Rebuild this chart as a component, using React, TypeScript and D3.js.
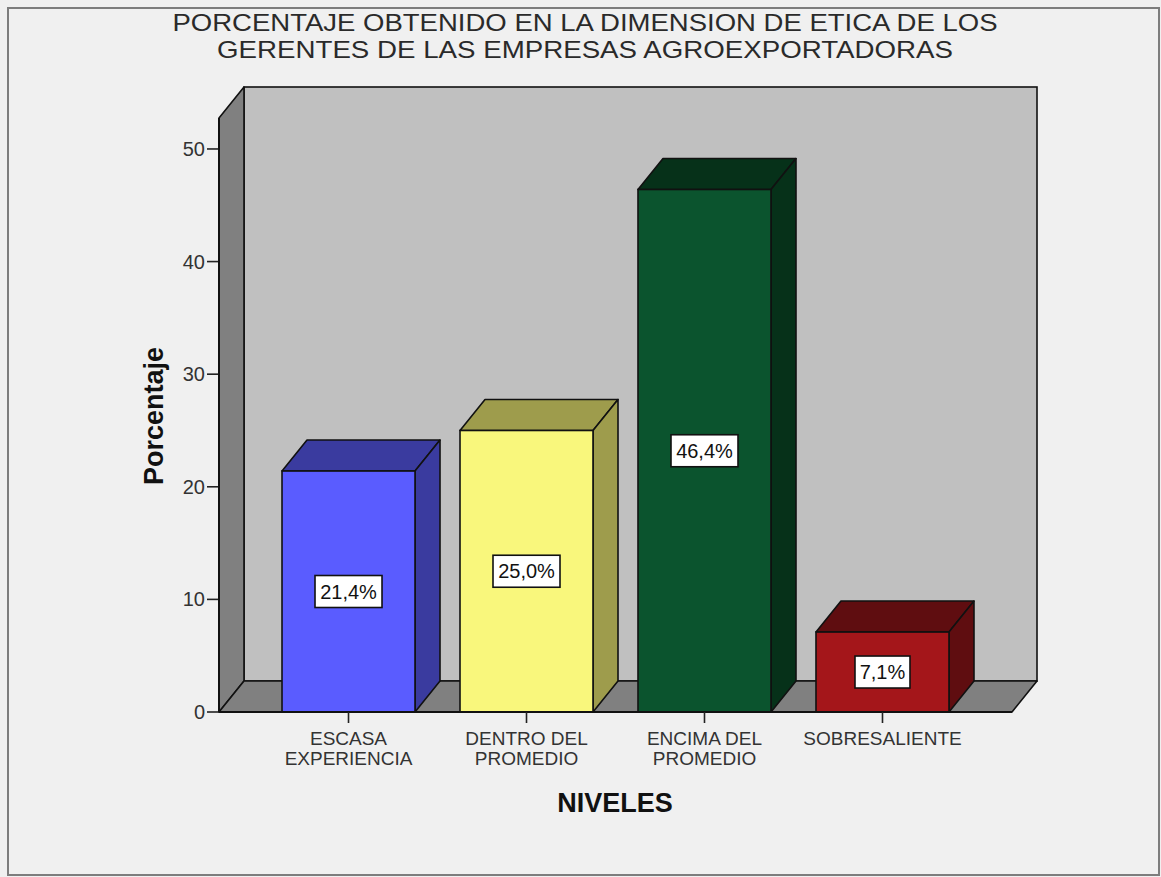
import React from "react";
import * as d3 from "d3";

const categories = ["ESCASA EXPERIENCIA", "DENTRO DEL PROMEDIO", "ENCIMA DEL PROMEDIO", "SOBRESALIENTE"];
const categoryLines = [["ESCASA", "EXPERIENCIA"], ["DENTRO DEL", "PROMEDIO"], ["ENCIMA DEL", "PROMEDIO"], ["SOBRESALIENTE"]];
const values = [21.4, 25.0, 46.4, 7.1];
const valueLabels = ["21,4%", "25,0%", "46,4%", "7,1%"];
const yTicks = [0, 10, 20, 30, 40, 50];
const frontColors = ["#5a5cff", "#f9f77c", "#0b542e", "#a4161a"];
const darkColors = ["#3a3b9f", "#9e9c4c", "#063119", "#5f0d10"];
const titleLines = [
  "PORCENTAJE OBTENIDO EN LA DIMENSION DE ETICA DE LOS",
  "GERENTES DE LAS EMPRESAS AGROEXPORTADORAS",
];
const titleWidths = [825, 736];

const W = 1161;
const H = 877;
const FONT = "'Liberation Sans', Arial, sans-serif";

export default function App() {
  const x0 = 219, x1 = 1012;
  const yBase = 712, yTopFront = 118;
  const dx = 25, dy = 31;
  const y = d3.scaleLinear().domain([0, 52.75]).range([yBase, yTopFront]);
  const x = d3.scaleBand<string>().domain(categories).range([x0, x1]).paddingInner(0.2528).paddingOuter(0.354);
  const bw = x.bandwidth();
  const stroke = "#111";
  const sw = 1.6;

  const pts = (a: number[][]) => a.map((p) => p.join(",")).join(" ");

  return (
    <div style={{ position: "absolute", left: 0, top: 0, width: W, height: H, background: "#f0f0f0" }}>
      <svg width={W} height={H} style={{ display: "block" }}>
        <rect x={0} y={0} width={W} height={H} fill="#f0f0f0" />
        <rect x={8} y={8} width={1151} height={867} fill="#f0f0f0" stroke="#7d7d7d" strokeWidth={2} />
        {titleLines.map((t, i) => (
          <text
            key={i}
            x={585}
            y={31 + i * 27}
            textAnchor="middle"
            fontFamily={FONT}
            fontSize={24}
            fill="#2a2a2a"
            textLength={titleWidths[i]}
            lengthAdjust="spacingAndGlyphs"
          >
            {t}
          </text>
        ))}
        {/* back wall */}
        <rect x={x0 + dx} y={yTopFront - dy} width={x1 - x0} height={yBase - yTopFront} fill="#c0c0c0" stroke={stroke} strokeWidth={sw} />
        {/* left wall */}
        <polygon
          points={pts([[x0, yTopFront], [x0 + dx, yTopFront - dy], [x0 + dx, yBase - dy], [x0, yBase]])}
          fill="#808080" stroke={stroke} strokeWidth={sw} strokeLinejoin="round"
        />
        {/* floor */}
        <polygon
          points={pts([[x0, yBase], [x0 + dx, yBase - dy], [x1 + dx, yBase - dy], [x1, yBase]])}
          fill="#808080" stroke={stroke} strokeWidth={sw} strokeLinejoin="round"
        />
        {/* y ticks */}
        {yTicks.map((t) => (
          <g key={t}>
            <line x1={x0 - 12} x2={x0} y1={y(t)} y2={y(t)} stroke="#222" strokeWidth={1.6} />
            <text x={x0 - 14} y={y(t)} dy="0.35em" textAnchor="end" fontFamily={FONT} fontSize={20} fill="#333">
              {t}
            </text>
          </g>
        ))}
        {/* bars */}
        {categories.map((c, i) => {
          const bx = x(c)!;
          const yt = y(values[i]);
          const bx2 = bx + bw;
          return (
            <g key={c}>
              <polygon
                points={pts([[bx, yt], [bx + dx, yt - dy], [bx2 + dx, yt - dy], [bx2, yt]])}
                fill={darkColors[i]} stroke={stroke} strokeWidth={sw} strokeLinejoin="round"
              />
              <polygon
                points={pts([[bx2, yt], [bx2 + dx, yt - dy], [bx2 + dx, yBase - dy], [bx2, yBase]])}
                fill={darkColors[i]} stroke={stroke} strokeWidth={sw} strokeLinejoin="round"
              />
              <rect x={bx} y={yt} width={bw} height={yBase - yt} fill={frontColors[i]} stroke={stroke} strokeWidth={sw} />
            </g>
          );
        })}
        {/* front axis edges */}
        <line x1={x0} x2={x1} y1={yBase} y2={yBase} stroke={stroke} strokeWidth={2} />
        <line x1={x0} x2={x0} y1={yTopFront} y2={yBase} stroke={stroke} strokeWidth={2} />
        {/* value labels */}
        {categories.map((c, i) => {
          const cx = x(c)! + bw / 2;
          const cy = (y(values[i]) + yBase) / 2;
          const wBox = valueLabels[i].length <= 4 ? 55 : 67;
          return (
            <g key={c + "l"}>
              <rect x={cx - wBox / 2} y={cy - 16} width={wBox} height={32} fill="#fff" stroke="#111" strokeWidth={1.6} />
              <text x={cx} y={cy} dy="0.36em" textAnchor="middle" fontFamily={FONT} fontSize={20} fill="#111">
                {valueLabels[i]}
              </text>
            </g>
          );
        })}
        {/* category ticks and labels */}
        {categories.map((c, i) => {
          const cx = x(c)! + bw / 2;
          return (
            <g key={c + "t"}>
              <line x1={cx} x2={cx} y1={yBase} y2={yBase + 11} stroke="#222" strokeWidth={1.6} />
              {categoryLines[i].map((ln, j) => (
                <text key={j} x={cx} y={745 + j * 20} textAnchor="middle" fontFamily={FONT} fontSize={19} fill="#333">
                  {ln}
                </text>
              ))}
            </g>
          );
        })}
        <text x={615} y={812} textAnchor="middle" fontFamily={FONT} fontSize={27} fontWeight="bold" fill="#111">
          NIVELES
        </text>
        <text
          transform={`translate(163,416) rotate(-90)`}
          textAnchor="middle" fontFamily={FONT} fontSize={27} fontWeight="bold" fill="#111"
        >
          Porcentaje
        </text>
      </svg>
    </div>
  );
}
